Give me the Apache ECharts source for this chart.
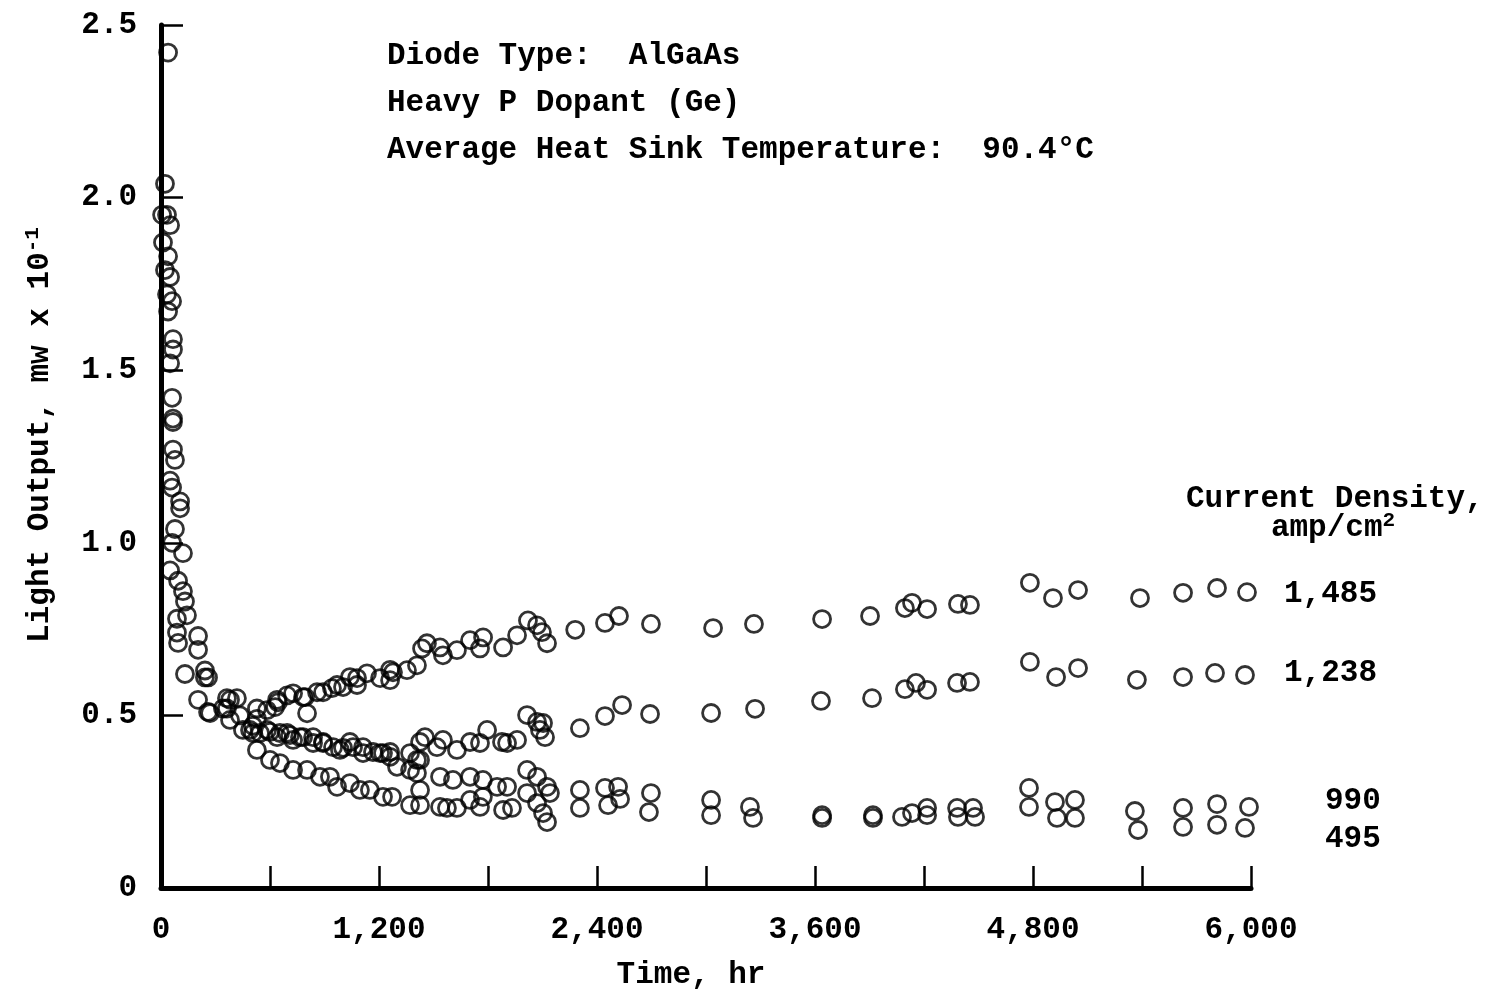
<!DOCTYPE html>
<html>
<head>
<meta charset="utf-8">
<script src="https://cdn.jsdelivr.net/npm/echarts@6/dist/echarts.min.js"></script>
<style>html,body{margin:0;padding:0;background:#fff}#c{width:1502px;height:992px}</style>
</head>
<body>
<div id="c"></div>
<script>
// ---- data (time in hr, light output in mW x 10^-1) ----
const xLabelValues = [0, 1200, 2400, 3600, 4800, 6000];
const yLabelValues = [0, 0.5, 1.0, 1.5, 2.0, 2.5];
const seriesNames = ['1,485', '1,238', '990', '495'];

const s1485 = [
  [39,2.42],[6,1.95],[50,1.77],[66,1.59],[61,1.42],[77,1.24],[105,1.12],[121,0.97],[132,0.83],[204,0.73],[242,0.63],[363,0.55],[418,0.55],[528,0.52],
  [584,0.515],[628,0.524],[639,0.545],[644,0.538],[694,0.558],[727,0.564],[782,0.553],[793,0.553],[804,0.506],[859,0.567],[892,0.567],[941,0.579],[969,0.588],[1002,0.582],[1040,0.611],[1079,0.608],[1079,0.588],[1134,0.622],[1206,0.608],[1261,0.602],[1261,0.632],[1277,0.625],[1354,0.631],[1409,0.645],[1437,0.694],[1464,0.709],[1536,0.697],[1552,0.674],[1629,0.689],[1701,0.718],[1756,0.694],[1773,0.726],[1883,0.697],[1960,0.732],[2020,0.775],[2070,0.761],[2097,0.741],[2125,0.709],
  [2280,0.748],[2444,0.768],[2521,0.788],[2697,0.765],[3039,0.753],[3264,0.765],[3639,0.779],[3903,0.788],[4095,0.811],[4134,0.826],[4217,0.808],[4387,0.823],[4453,0.820],[4783,0.884],[4910,0.840],[5048,0.863],[5389,0.840],[5626,0.855],[5813,0.869],[5978,0.857]
];
const s1238 = [
  [22,2.04],[50,1.92],[33,1.72],[66,1.56],[66,1.35],[50,1.18],[77,1.04],[50,0.92],[88,0.78],[204,0.69],[132,0.62],[341,0.52],[435,0.50],[528,0.49],
  [490,0.458],[545,0.449],[600,0.452],[655,0.449],[710,0.443],[765,0.437],[837,0.437],[892,0.423],[985,0.400],[1040,0.423],[1112,0.408],[1206,0.391],[1261,0.394],[1371,0.391],[1409,0.371],[1426,0.423],[1453,0.437],[1519,0.408],[1552,0.429],[1629,0.400],[1701,0.423],[1756,0.420],[1795,0.458],[1877,0.423],[1905,0.420],[1960,0.429],[2015,0.501],[2070,0.481],[2086,0.458],[2103,0.478],[2114,0.437],
  [2306,0.463],[2444,0.498],[2538,0.530],[2692,0.504],[3028,0.507],[3270,0.519],[3633,0.542],[3914,0.550],[4095,0.576],[4156,0.594],[4217,0.574],[4382,0.594],[4453,0.597],[4783,0.655],[4927,0.611],[5048,0.637],[5372,0.603],[5626,0.611],[5802,0.623],[5967,0.617]
];
const s990 = [
  [33,1.95],[39,1.83],[61,1.70],[50,1.52],[66,1.36],[61,1.16],[61,1.00],[94,0.89],[143,0.79],[94,0.71],[259,0.61],[380,0.545],[451,0.458],[506,0.449],
  [528,0.400],[584,0.458],[639,0.437],[694,0.449],[727,0.429],[782,0.437],[837,0.420],[892,0.420],[947,0.408],[1002,0.406],[1057,0.408],[1112,0.391],[1167,0.394],[1222,0.391],[1261,0.380],[1299,0.351],[1371,0.342],[1409,0.333],[1426,0.371],[1536,0.322],[1607,0.313],[1701,0.322],[1772,0.313],[1850,0.293],[1905,0.293],[2015,0.342],[2070,0.322],[2125,0.293],[2141,0.275],
  [2306,0.284],[2444,0.290],[2516,0.293],[2697,0.275],[3028,0.255],[3242,0.235],[3639,0.211],[3919,0.211],[4079,0.206],[4217,0.232],[4382,0.232],[4470,0.232],[4778,0.290],[4921,0.249],[5031,0.255],[5361,0.223],[5626,0.232],[5813,0.243],[5989,0.235]
];
const s495 = [
  [11,1.87],[22,1.79],[39,1.67],[66,1.27],[105,1.10],[121,0.86],[88,0.74],[242,0.61],[204,0.545],[259,0.51],[270,0.507],[380,0.487],[363,0.52],[506,0.47],
  [600,0.371],[655,0.362],[727,0.342],[804,0.342],[875,0.322],[930,0.322],[969,0.293],[1040,0.304],[1095,0.284],[1150,0.284],[1222,0.264],[1272,0.264],[1371,0.240],[1426,0.240],[1426,0.284],[1536,0.235],[1574,0.232],[1629,0.232],[1701,0.255],[1756,0.235],[1772,0.264],[1883,0.226],[1932,0.232],[2015,0.275],[2070,0.246],[2103,0.217],[2125,0.191],
  [2306,0.232],[2461,0.240],[2527,0.258],[2686,0.220],[3028,0.211],[3259,0.203],[3639,0.203],[3919,0.203],[4134,0.217],[4217,0.211],[4387,0.206],[4481,0.206],[4778,0.235],[4932,0.203],[5031,0.203],[5378,0.168],[5626,0.177],[5813,0.183],[5967,0.174]
];
const allSeries = [s1485, s1238, s990, s495];

// ---- styling ----
const FONT = "'Liberation Mono', 'DejaVu Sans Mono', monospace";
const FS = 31;
const FW = 'bold';
const INK = '#000';

const chart = echarts.init(document.getElementById('c'), null, {renderer: 'canvas'});

function txt(text, x, y, extra) {
  return {
    type: 'text', x: x, y: y, silent: true,
    style: Object.assign({text: text, fill: INK, font: FW + ' ' + FS + 'px ' + FONT, verticalAlign: 'middle', align: 'left'}, extra || {})
  };
}
function richTxt(main, sup, x, y, rot) {
  return {
    type: 'text', x: x, y: y, rotation: rot || 0, silent: true,
    style: {
      text: '{a|' + main + '}{s|' + sup + '}', align: 'center', verticalAlign: 'middle', fill: INK,
      rich: {
        a: {fontSize: FS, fontFamily: FONT, fontWeight: FW, fill: INK, lineHeight: 36},
        s: {fontSize: 21, fontFamily: FONT, fontWeight: FW, fill: INK, verticalAlign: 'top', lineHeight: 36}
      }
    }
  };
}

const option = {
  animation: false,
  backgroundColor: '#fff',
  grid: {left: 161, right: 251, top: 25, bottom: 104, containLabel: false},
  xAxis: {
    type: 'value', min: 0, max: 6000, interval: 600,
    axisLine: {show: true, onZero: false, lineStyle: {color: '#000', width: 5}},
    axisTick: {show: true, inside: true, length: 22, lineStyle: {color: '#000', width: 2.5}},
    splitLine: {show: false},
    axisLabel: {
      margin: 27, color: INK, fontSize: FS, fontFamily: FONT, fontWeight: FW,
      formatter: v => xLabelValues.indexOf(v) >= 0 ? v.toLocaleString('en-US') : ''
    }
  },
  yAxis: {
    type: 'value', min: 0, max: 2.5, interval: 0.5,
    axisLine: {show: true, onZero: false, lineStyle: {color: '#000', width: 5}},
    axisTick: {show: true, inside: true, length: 22, lineStyle: {color: '#000', width: 2.5}},
    splitLine: {show: false},
    axisLabel: {
      margin: 24, color: INK, fontSize: FS, fontFamily: FONT, fontWeight: FW,
      formatter: v => v === 0 ? '0' : v.toFixed(1)
    }
  },
  series: allSeries.map((d, i) => ({
    type: 'scatter', name: seriesNames[i], data: d,
    symbol: 'circle', symbolSize: 17, silent: true,
    itemStyle: {color: 'rgba(0,0,0,0)', borderColor: '#000', borderWidth: 2.8}
  })),
  graphic: [
    txt('Diode Type:  AlGaAs', 387, 56),
    txt('Heavy P Dopant (Ge)', 387, 103),
    txt('Average Heat Sink Temperature:  90.4°C', 387, 150),
    txt('Current Density,', 1186, 499),
    richTxt('amp/cm', '2', 1333, 528, 0),
    txt('1,485', 1284, 594),
    txt('1,238', 1284, 673),
    txt('990', 1325, 801),
    txt('495', 1325, 839),
    richTxt('Light Output, mw x 10', '-1', 40, 435, Math.PI / 2),
    txt('Time, hr', 691, 975, {align: 'center'})
  ]
};
chart.setOption(option);
</script>
</body>
</html>
